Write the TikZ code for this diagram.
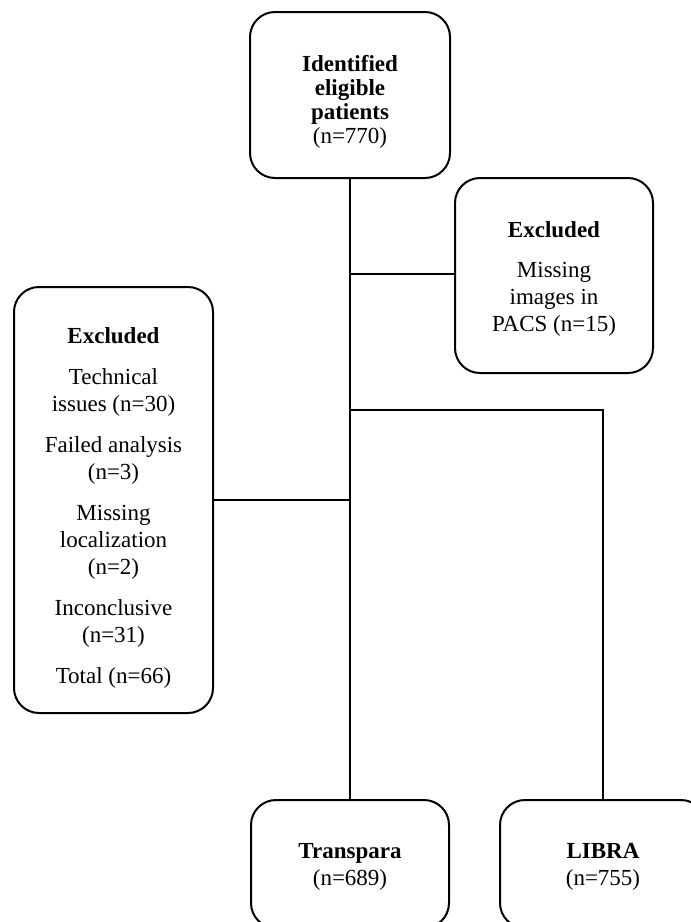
\documentclass[tikz,border=0pt]{standalone}
\usepackage{fontspec}
\setmainfont{Liberation Serif}
\begin{document}
\begin{tikzpicture}[x=1pt,y=1pt,
  box/.style={draw, line width=2pt, rounded corners=25pt, inner sep=0pt},
  txt/.style={align=center, font=\fontsize{23}{27}\selectfont, inner sep=0pt},
  conn/.style={line width=2pt}]
\useasboundingbox (0,0) rectangle (691,-922);
\clip (0,0) rectangle (691,-922);
\fill[white] (0,0) rectangle (691,-922);
\node[box, minimum width=200pt, minimum height=166pt] (top) at (350,-95) {};
\node[txt] (topt) at ([yshift=-6.5pt]top.center)
  {\textbf{Identified}\\[-3pt] \textbf{eligible}\\[-3pt] \textbf{patients}\\[-3pt] (n=770)};
\node[box, minimum width=198pt, minimum height=195pt] (excl1) at (554,-275.5) {};
\node[txt] (excl1t) at ([yshift=-3pt]excl1.center)
  {\textbf{Excluded}\\[13pt] Missing\\ images in\\ PACS (n=15)};
\node[box, minimum width=199pt, minimum height=426pt] (excl2) at (113.5,-500) {};
\node[txt] (excl2t) at ([yshift=-8pt]excl2.center)
  {\textbf{Excluded}\\[14pt] Technical\\ issues (n=30)\\[14pt] Failed analysis\\ (n=3)\\[14pt]
   Missing\\ localization\\ (n=2)\\[14pt] Inconclusive\\ (n=31)\\[14pt] Total (n=66)};
\node[box, minimum width=198pt, minimum height=128pt] (trans) at (350,-864) {};
\node[txt] (transt) at ([yshift=-3pt]trans.center) {\textbf{Transpara}\\ (n=689)};
\node[box, minimum width=206pt, minimum height=128pt] (libra) at (603,-864) {};
\node[txt] (librat) at ([yshift=-3pt]libra.center) {\textbf{LIBRA}\\ (n=755)};
\coordinate (j1) at (350,-274);
\coordinate (j2) at (350,-410);
\coordinate (j3) at (350,-500);
\draw[conn] (top.south) -- (trans.north);
\draw[conn] (j1) -- (j1 -| excl1.west);
\draw[conn] (j2) -| (libra.north);
\draw[conn] (j3) -- (excl2.east);
\end{tikzpicture}
\end{document}
